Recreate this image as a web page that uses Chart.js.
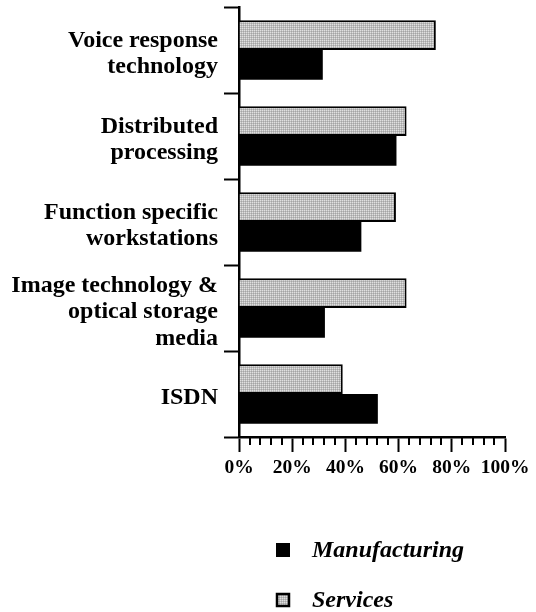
<!DOCTYPE html>
<html>
<head>
<meta charset="utf-8">
<script src="https://cdn.jsdelivr.net/npm/chart.js@4"></script>
<style>
  body { margin: 0; background: #fff; }
  #wrap { width: 536px; height: 612px; }
</style>
</head>
<body>
<div id="wrap"><canvas id="myChart" width="536" height="612"></canvas></div>
<script>
const categories = [
  ['Voice response', 'technology'],
  ['Distributed', 'processing'],
  ['Function specific', 'workstations'],
  ['Image technology &', 'optical storage', 'media'],
  ['ISDN']
];
const seriesNames = ['Services', 'Manufacturing'];
const servicesValues = [74, 63, 59, 63, 39];
const manufacturingValues = [31.5, 59.2, 46, 32.3, 52.2];
const xTickStep = 4;
const xLabelStep = 20;

const serif = '"Liberation Serif", "Times New Roman", serif';

// small dotted grey fill like the original shading
function makePattern() {
  const c = document.createElement('canvas');
  c.width = 2;
  c.height = 2;
  const g = c.getContext('2d');
  g.fillStyle = '#e0e0e0'; g.fillRect(0, 0, 1, 1);
  g.fillStyle = '#bdbdbd'; g.fillRect(1, 0, 1, 1);
  g.fillStyle = '#bdbdbd'; g.fillRect(0, 1, 1, 1);
  g.fillStyle = '#a4a4a4'; g.fillRect(1, 1, 1, 1);
  return g.createPattern(c, 'repeat');
}
const grayFill = makePattern();

// short ticks between the labelled ones
const minorTicks = {
  id: 'minorTicks',
  afterDraw(chart) {
    const x = chart.scales.x;
    const ctx = chart.ctx;
    const bottom = chart.chartArea.bottom;
    ctx.save();
    ctx.strokeStyle = '#000';
    ctx.lineWidth = 2;
    x.ticks.forEach(t => {
      if (t.value % xLabelStep !== 0) {
        const px = Math.round(x.getPixelForValue(t.value));
        ctx.beginPath();
        ctx.moveTo(px, bottom);
        ctx.lineTo(px, bottom + 8);
        ctx.stroke();
      }
    });
    ctx.restore();
  }
};

// legend drawn in canvas, stacked, manufacturing first
const stackedLegend = {
  id: 'stackedLegend',
  afterDraw(chart) {
    const ctx = chart.ctx;
    const items = chart.data.datasets.slice().reverse();
    ctx.save();
    ctx.font = 'italic bold 24px ' + serif;
    ctx.textBaseline = 'middle';
    ctx.textAlign = 'left';
    items.forEach((ds, i) => {
      const cy = 550 + i * 50;
      ctx.fillStyle = ds.backgroundColor;
      ctx.fillRect(276, cy - 7, 14, 14);
      if (ds.borderWidth) {
        ctx.strokeStyle = '#000';
        ctx.lineWidth = 2.5;
        ctx.strokeRect(277, cy - 6, 12, 12);
      }
      ctx.fillStyle = '#000';
      ctx.fillText(ds.label, 312, cy + 1);
    });
    ctx.restore();
  }
};

const data = {
  labels: categories,
  datasets: [
    {
      label: seriesNames[0],
      data: servicesValues,
      backgroundColor: grayFill,
      borderColor: '#000',
      borderWidth: 2
    },
    {
      label: seriesNames[1],
      data: manufacturingValues,
      backgroundColor: '#000',
      borderWidth: 0
    }
  ]
};

const config = {
  type: 'bar',
  data: data,
  options: {
    responsive: false,
    animation: false,
    indexAxis: 'y',
    categoryPercentage: 0.69,
    barPercentage: 1,
    layout: { padding: { top: 7, right: 31, bottom: 135, left: 0 } },
    plugins: {
      legend: { display: false },
      tooltip: { enabled: false }
    },
    scales: {
      y: {
        afterFit(scale) {
          scale.width = 239;
          scale.paddingTop = 0;
          scale.paddingBottom = 0;
        },
        border: { color: '#000', width: 2.5 },
        grid: {
          offset: true,
          drawOnChartArea: false,
          drawTicks: true,
          tickLength: 15,
          tickColor: '#000',
          tickWidth: 2
        },
        ticks: {
          color: '#000',
          padding: 6,
          labelOffset: 4,
          font: { family: serif, size: 24, weight: 'bold', lineHeight: 1.1 }
        }
      },
      x: {
        min: 0,
        max: 100,
        afterFit(scale) {
          scale.height = 40;
        },
        border: { color: '#000', width: 2.5 },
        grid: {
          drawOnChartArea: false,
          drawTicks: true,
          tickLength: 15,
          tickWidth: 2,
          tickColor: ctx => (ctx.tick && ctx.tick.value % xLabelStep === 0) ? '#000' : 'rgba(0,0,0,0)'
        },
        ticks: {
          stepSize: xTickStep,
          autoSkip: false,
          maxRotation: 0,
          color: '#000',
          padding: 4,
          font: { family: serif, size: 19.5, weight: 'bold' },
          callback: v => (v % xLabelStep === 0) ? v + '%' : ''
        }
      }
    }
  },
  plugins: [minorTicks, stackedLegend]
};

const myChart = new Chart('myChart', config);
</script>
</body>
</html>
